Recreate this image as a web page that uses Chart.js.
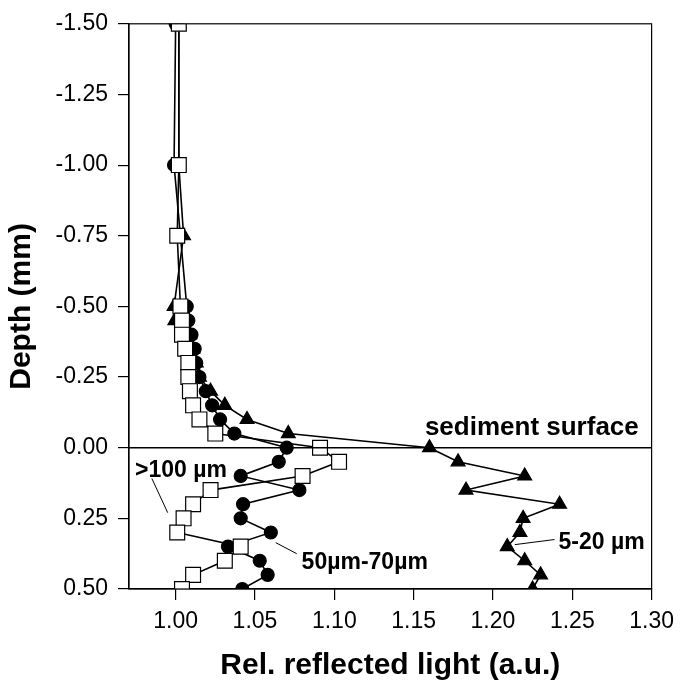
<!DOCTYPE html>
<html>
<head>
<meta charset="utf-8">
<script src="https://cdn.jsdelivr.net/npm/chart.js@4.4.1/dist/chart.umd.min.js"></script>
<style>
  html, body { margin: 0; padding: 0; background: #fff; }
  #wrap { width: 682px; height: 684px; }
</style>
</head>
<body>
<div id="wrap"><canvas id="c" width="682" height="684"></canvas></div>
<script>
// ---- data ----
const xTickValues = [1.00, 1.05, 1.10, 1.15, 1.20, 1.25, 1.30];
const yTickValues = [-1.50, -1.25, -1.00, -0.75, -0.50, -0.25, 0.00, 0.25, 0.50];

// >100 µm (open squares)
const depthSquares = [-1.50, -1.00, -0.75, -0.50, -0.45, -0.40, -0.35, -0.30, -0.25, -0.20, -0.15, -0.10, -0.05,
  0.00, 0.05, 0.10, 0.15, 0.20, 0.25, 0.30, 0.35, 0.40, 0.45, 0.50];
const lightSquares = [1.002, 1.002, 1.001, 1.003, 1.004, 1.004, 1.006, 1.008, 1.008, 1.009, 1.011, 1.015, 1.025,
  1.091, 1.103, 1.080, 1.022, 1.011, 1.005, 1.001, 1.041, 1.031, 1.011, 1.004];

// 50µm-70µm (filled circles)
const depthCircles = [-1.50, -1.00, -0.50, -0.45, -0.40, -0.35, -0.30, -0.25, -0.20, -0.15, -0.10, -0.05,
  0.00, 0.05, 0.10, 0.15, 0.20, 0.25, 0.30, 0.35, 0.40, 0.45, 0.50];
const lightCircles = [1.000, 0.999, 1.007, 1.008, 1.010, 1.012, 1.013, 1.015, 1.019, 1.023, 1.028, 1.037,
  1.070, 1.065, 1.041, 1.078, 1.0425, 1.041, 1.060, 1.033, 1.053, 1.058, 1.042];

// 5-20 µm (filled triangles)
const depthTriangles = [-1.50, -1.00, -0.75, -0.50, -0.45, -0.40, -0.35, -0.30, -0.25, -0.20, -0.15, -0.10, -0.05,
  0.00, 0.05, 0.10, 0.15, 0.20, 0.25, 0.30, 0.35, 0.40, 0.45, 0.50];
const lightTriangles = [1.002, 1.002, 1.005, 0.999, 0.9995, 1.009, 1.011, 1.013, 1.015, 1.022, 1.031, 1.045, 1.071,
  1.160, 1.178, 1.220, 1.183, 1.242, 1.219, 1.217, 1.209, 1.220, 1.230, 1.225];

const seriesLabels = ['>100 µm', '50µm-70µm', '5-20 µm'];
const surfaceLabel = 'sediment surface';
const xTitle = 'Rel. reflected light (a.u.)';
const yTitle = 'Depth (mm)';

function pts(xs, ys) { return xs.map((x, i) => ({ x: x, y: ys[i] })); }

const FONT = '"Liberation Sans", Arial, Helvetica, sans-serif';

// annotation plugin: frame, sediment surface line, labels and leader lines (in data units)
const annot = {
  id: 'annot',
  afterDatasetsDraw(chart) {
    const { ctx, chartArea: a, scales: { x, y } } = chart;
    ctx.save();
    ctx.strokeStyle = '#000';
    ctx.lineWidth = 1.2;
    ctx.strokeRect(a.left, a.top, a.right - a.left, a.bottom - a.top);
    // sediment surface
    const y0 = y.getPixelForValue(0);
    ctx.lineWidth = 1.5;
    ctx.beginPath(); ctx.moveTo(a.left, y0); ctx.lineTo(a.right, y0); ctx.stroke();
    ctx.fillStyle = '#000';
    ctx.textBaseline = 'alphabetic';
    ctx.font = 'bold 26px ' + FONT;
    ctx.textAlign = 'right';
    ctx.fillText(surfaceLabel, x.getPixelForValue(1.2919), y.getPixelForValue(-0.046));
    ctx.font = 'bold 23px ' + FONT;
    ctx.textAlign = 'left';
    ctx.fillText(seriesLabels[0], x.getPixelForValue(0.9744), y.getPixelForValue(0.1025));
    ctx.fillText(seriesLabels[1], x.getPixelForValue(1.0794), y.getPixelForValue(0.428));
    ctx.fillText(seriesLabels[2], x.getPixelForValue(1.2413), y.getPixelForValue(0.357));
    ctx.lineWidth = 1;
    const lead = [[0.985, 0.109, 0.995, 0.230], [1.0631, 0.336, 1.0763, 0.375], [1.2138, 0.343, 1.2388, 0.325]];
    lead.forEach(l => {
      ctx.beginPath();
      ctx.moveTo(x.getPixelForValue(l[0]), y.getPixelForValue(l[1]));
      ctx.lineTo(x.getPixelForValue(l[2]), y.getPixelForValue(l[3]));
      ctx.stroke();
    });
    ctx.restore();
  }
};

const common = { showLine: true, borderColor: '#000', borderWidth: 1.6, pointBorderColor: '#000', pointBorderWidth: 1.2, tension: 0 };

new Chart(document.getElementById('c'), {
  type: 'scatter',
  data: {
    datasets: [
      Object.assign({ label: seriesLabels[0], data: pts(lightSquares, depthSquares), pointStyle: 'rect', pointRadius: 10.5, pointBackgroundColor: '#fff' }, common),
      Object.assign({ label: seriesLabels[1], data: pts(lightCircles, depthCircles), pointStyle: 'circle', pointRadius: 6.5, pointBackgroundColor: '#000' }, common),
      Object.assign({ label: seriesLabels[2], data: pts(lightTriangles, depthTriangles), pointStyle: 'triangle', pointRadius: 8, pointBackgroundColor: '#000' }, common)
    ]
  },
  options: {
    responsive: false,
    animation: false,
    devicePixelRatio: 1,
    layout: { padding: { left: 0, right: 26, top: 23, bottom: 0 } },
    plugins: { legend: { display: false }, tooltip: { enabled: false } },
    scales: {
      x: {
        type: 'linear', min: 0.9706, max: 1.30,
        afterFit(s) { s.height = 95; },
        afterBuildTicks(s) { s.ticks = xTickValues.map(v => ({ value: v })); },
        border: { display: true, color: '#000', width: 1.2 },
        grid: { drawOnChartArea: false, drawTicks: true, tickLength: 11, color: '#000', lineWidth: 1.2 },
        ticks: { color: '#000', font: { family: FONT, size: 23 }, padding: 8, maxRotation: 0, callback: v => v.toFixed(2) },
        title: { display: true, text: xTitle, color: '#000', font: { family: FONT, size: 30, weight: 'bold' }, padding: { top: 0, bottom: 0 } }
      },
      y: {
        type: 'linear', reverse: true, min: -1.5, max: 0.5,
        afterFit(s) { s.width = 129; },
        afterBuildTicks(s) { s.ticks = yTickValues.map(v => ({ value: v })); },
        border: { display: true, color: '#000', width: 1.2 },
        grid: { drawOnChartArea: false, drawTicks: true, tickLength: 11, color: '#000', lineWidth: 1.2 },
        ticks: { color: '#000', font: { family: FONT, size: 23 }, padding: 10, callback: v => v.toFixed(2) },
        title: { display: true, text: yTitle, color: '#000', font: { family: FONT, size: 30, weight: 'bold' }, padding: { top: 4, bottom: 0 } }
      }
    }
  },
  plugins: [annot]
});
</script>
</body>
</html>
